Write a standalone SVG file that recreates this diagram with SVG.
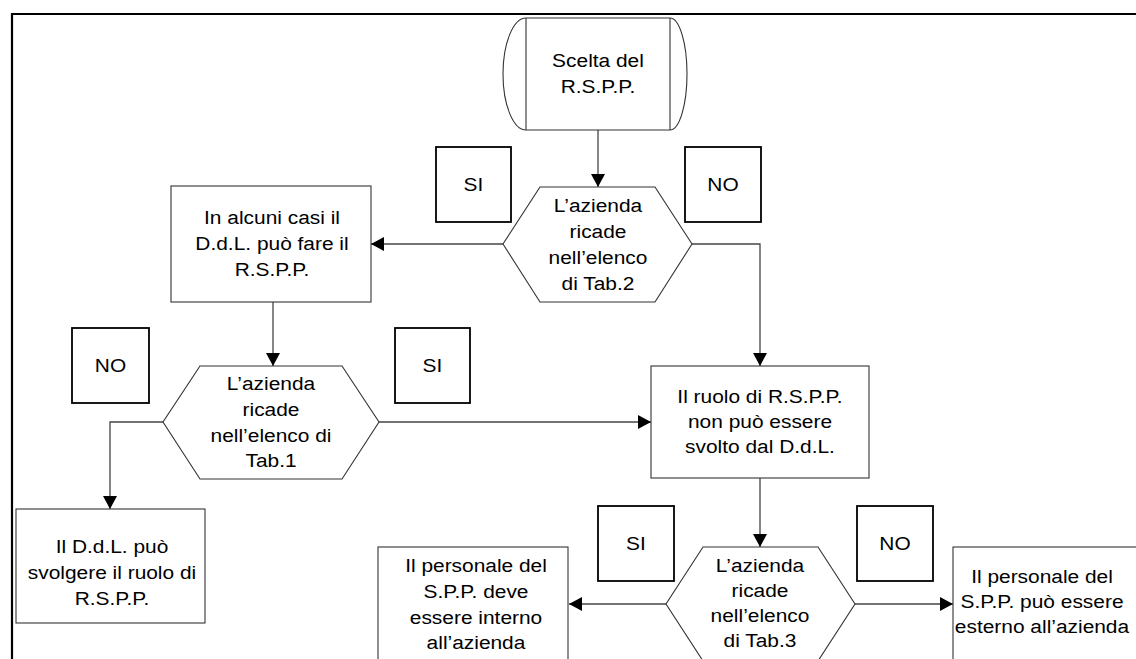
<svg xmlns="http://www.w3.org/2000/svg" width="1136" height="659" viewBox="0 0 1136 659">
  <style>
    .frame { fill: none; stroke: #000; stroke-width: 2.2; }
    .shape { fill: #fff; stroke: #333; stroke-width: 1.1; }
    .tag { fill: #fff; stroke: #000; stroke-width: 1.8; }
    .conn { fill: none; stroke: #444; stroke-width: 1.3; marker-end: url(#arrow); }
    .t { font-family: "Liberation Sans", Arial, sans-serif; font-size: 19px; fill: #000; text-anchor: middle; }
  </style>
  <defs>
    <marker id="arrow" markerUnits="userSpaceOnUse" viewBox="0 0 13 14" refX="13" refY="7" markerWidth="13" markerHeight="14" orient="auto">
      <path d="M0,0 L13,7 L0,14 Z" fill="#000"/>
    </marker>
  </defs>

  <rect width="1136" height="659" fill="#fff"/>
  <!-- page frame -->
  <path class="frame" d="M12,659 V14 H1136"/>

  <!-- connectors -->
  <g id="connectors">
    <path class="conn" d="M598,130 V187"/>
    <path class="conn" d="M503,244 H371"/>
    <path class="conn" d="M692,244 H760 V366"/>
    <path class="conn" d="M273,302 V366"/>
    <path class="conn" d="M163,422 H110 V509"/>
    <path class="conn" d="M379,422 H651"/>
    <path class="conn" d="M760,478 V547"/>
    <path class="conn" d="M666,604 H569"/>
    <path class="conn" d="M855,604 H953"/>
  </g>

  <!-- start -->
  <g id="start">
    <path class="shape" d="M526,18 H670 A17,56 0 0 1 670,130 H526 A23,56 0 0 1 526,18 Z"/>
    <path fill="none" stroke="#333" stroke-width="1.1" d="M526,18 V130 M670,18 V130"/>
    <text class="t" transform="matrix(1.1 0 0 1 598 0)"><tspan x="0" y="67">Scelta del</tspan><tspan x="0" y="93">R.S.P.P.</tspan></text>
  </g>

  <!-- decision Tab.2 -->
  <g id="dec-tab2">
    <polygon class="shape" points="540,187 655,187 692,244 655,302 540,302 503,244"/>
    <text class="t" transform="matrix(1.1 0 0 1 598 0)"><tspan x="0" y="212">L’azienda</tspan><tspan x="0" y="238">ricade</tspan><tspan x="0" y="264">nell’elenco</tspan><tspan x="0" y="290">di Tab.2</tspan></text>
  </g>

  <g id="tag-si-1">
    <rect class="tag" x="436" y="147" width="75" height="75"/>
    <text class="t" transform="matrix(1.1 0 0 1 473.5 0)"><tspan x="0" y="191">SI</tspan></text>
  </g>
  <g id="tag-no-1">
    <rect class="tag" x="685" y="147" width="76" height="75"/>
    <text class="t" transform="matrix(1.1 0 0 1 723 0)"><tspan x="0" y="191">NO</tspan></text>
  </g>

  <!-- process: employer in some cases -->
  <g id="ddl-casi">
    <rect class="shape" x="171" y="186" width="200" height="116"/>
    <text class="t" transform="matrix(1.1 0 0 1 272 0)"><tspan x="0" y="224">In alcuni casi il</tspan><tspan x="0" y="250">D.d.L. può fare il</tspan><tspan x="0" y="276">R.S.P.P.</tspan></text>
  </g>

  <!-- decision Tab.1 -->
  <g id="dec-tab1">
    <polygon class="shape" points="200,366 342,366 379,422 342,479 200,479 163,422"/>
    <text class="t" transform="matrix(1.1 0 0 1 271 0)"><tspan x="0" y="390">L’azienda</tspan><tspan x="0" y="416">ricade</tspan><tspan x="0" y="442">nell’elenco di</tspan><tspan x="0" y="467">Tab.1</tspan></text>
  </g>

  <g id="tag-no-2">
    <rect class="tag" x="72" y="328" width="77" height="75"/>
    <text class="t" transform="matrix(1.1 0 0 1 110.5 0)"><tspan x="0" y="372">NO</tspan></text>
  </g>
  <g id="tag-si-2">
    <rect class="tag" x="395" y="328" width="75" height="75"/>
    <text class="t" transform="matrix(1.1 0 0 1 432.5 0)"><tspan x="0" y="372">SI</tspan></text>
  </g>

  <!-- process: employer may act as RSPP -->
  <g id="ddl-puo">
    <rect class="shape" x="16" y="509" width="189" height="114"/>
    <text class="t" transform="matrix(1.1 0 0 1 112 0)"><tspan x="0" y="553">Il D.d.L. può</tspan><tspan x="0" y="579">svolgere il ruolo di</tspan><tspan x="0" y="605">R.S.P.P.</tspan></text>
  </g>

  <!-- process: employer may not act as RSPP -->
  <g id="ddl-non-puo">
    <rect class="shape" x="651" y="366" width="218" height="112"/>
    <text class="t" transform="matrix(1.1 0 0 1 760 0)"><tspan x="0" y="403">Il ruolo di R.S.P.P.</tspan><tspan x="0" y="428">non può essere</tspan><tspan x="0" y="453">svolto dal D.d.L.</tspan></text>
  </g>

  <!-- decision Tab.3 -->
  <g id="dec-tab3">
    <polygon class="shape" points="703,547 818,547 855,604 818,661 703,661 666,604"/>
    <text class="t" transform="matrix(1.1 0 0 1 760 0)"><tspan x="0" y="572">L’azienda</tspan><tspan x="0" y="597">ricade</tspan><tspan x="0" y="622">nell’elenco</tspan><tspan x="0" y="647">di Tab.3</tspan></text>
  </g>

  <g id="tag-si-3">
    <rect class="tag" x="598" y="506" width="76" height="75"/>
    <text class="t" transform="matrix(1.1 0 0 1 636 0)"><tspan x="0" y="550">SI</tspan></text>
  </g>
  <g id="tag-no-3">
    <rect class="tag" x="857" y="506" width="76" height="75"/>
    <text class="t" transform="matrix(1.1 0 0 1 895 0)"><tspan x="0" y="550">NO</tspan></text>
  </g>

  <!-- process: internal staff -->
  <g id="spp-interno">
    <rect class="shape" x="378" y="547" width="190" height="130"/>
    <text class="t" transform="matrix(1.1 0 0 1 476 0)"><tspan x="0" y="572">Il personale del</tspan><tspan x="0" y="598">S.P.P. deve</tspan><tspan x="0" y="624">essere interno</tspan><tspan x="0" y="649">all’azienda</tspan></text>
  </g>

  <!-- process: external staff -->
  <g id="spp-esterno">
    <rect class="shape" x="953" y="547" width="200" height="130"/>
    <text class="t" transform="matrix(1.1 0 0 1 1042 0)"><tspan x="0" y="583">Il personale del</tspan><tspan x="0" y="608">S.P.P. può essere</tspan><tspan x="0" y="633">esterno all’azienda</tspan></text>
  </g>
</svg>
